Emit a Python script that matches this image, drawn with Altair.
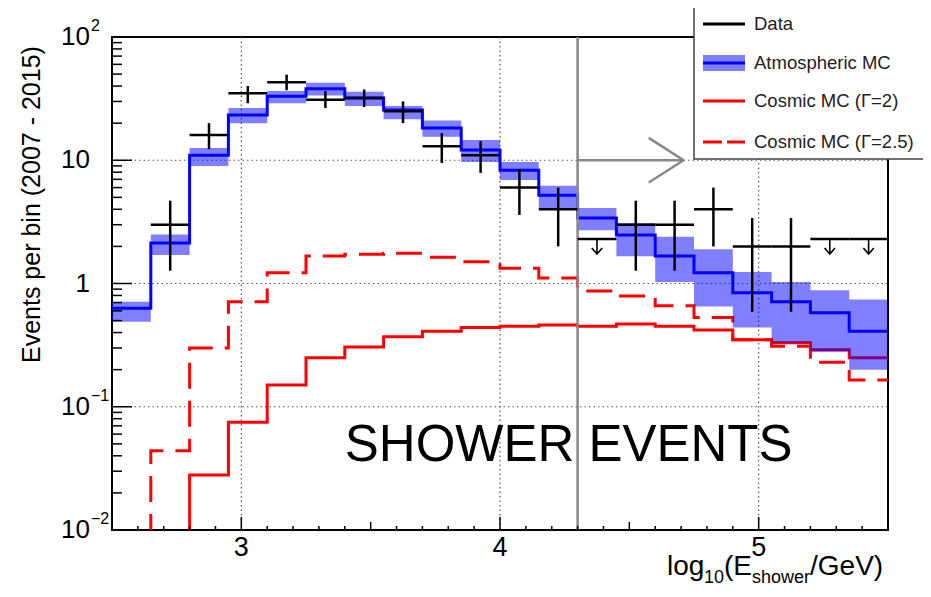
import altair as alt
import pandas as pd

# ---------------- data ----------------
edges = [2.50, 2.65, 2.80, 2.95, 3.10, 3.25, 3.40, 3.55, 3.70, 3.85, 4.00,
         4.15, 4.30, 4.45, 4.60, 4.75, 4.90, 5.05, 5.20, 5.35, 5.50]

atm_mc = [0.63, 2.13, 11.0, 23.3, 33.0, 38.0, 32.0, 25.6, 18.3, 12.1,
          8.3, 5.2, 3.4, 2.47, 1.67, 1.22, 0.84, 0.71, 0.58, 0.41]
atm_lo = [0.49, 1.70, 9.0, 20.0, 29.0, 33.5, 27.5, 21.5, 15.5, 9.7,
          6.9, 4.0, 2.7, 1.66, 1.03, 0.65, 0.44, 0.33, 0.28, 0.20]
atm_hi = [0.71, 2.50, 12.6, 26.5, 36.5, 42.5, 36.0, 27.5, 21.0, 14.6,
          9.7, 6.2, 4.1, 3.1, 2.4, 1.9, 1.24, 1.03, 0.88, 0.74]

cosmic_g2 = [0.001, 0.001, 0.028, 0.075, 0.15, 0.25, 0.305, 0.37, 0.41, 0.44,
             0.45, 0.46, 0.45, 0.47, 0.45, 0.42, 0.35, 0.33, 0.29, 0.25]
cosmic_g25 = [0.001, 0.044, 0.30, 0.71, 1.22, 1.67, 1.73, 1.76, 1.63, 1.50,
              1.33, 1.11, 0.87, 0.79, 0.66, 0.53, 0.35, 0.31, 0.23, 0.165]

data_bins = [1, 2, 3, 4, 5, 6, 7, 8, 9, 10, 11, 13, 14, 15, 16, 17]
data_counts = [3, 16, 35, 43, 31, 32, 25, 13, 11, 6, 4, 3, 3, 4, 2, 2]
data_err_lo = [1.27, 12.3, 29.0, 37.0, 26.5, 27.0, 20.0, 9.5, 7.9, 3.6, 2.0,
               1.27, 1.27, 2.0, 0.59, 0.59]
data_err_hi = [4.7, 20.0, 40.0, 49.5, 36.5, 37.5, 30.0, 16.6, 14.3, 8.5, 6.0,
               4.7, 4.7, 6.0, 3.4, 3.4]

limit_bins = [12, 18, 19]
limit_vals = [2.3, 2.3, 2.3]

threshold = 4.3
arrow_tip = [4.71, 10.0]
arrow_back = [4.575, 15.2, 6.6]

x_tick_labels = [3, 4, 5]
y_tick_vals = [0.01, 0.1, 1, 10, 100]
y_tick_main = ["10", "10", "1", "10", "10"]
y_tick_sup = ["\u22122", "\u22121", "", "", "2"]

# ---------------- layout ----------------
FONT = "Liberation Sans"
W, H = 776, 493
xs = alt.Scale(domain=[2.5, 5.5], nice=False, zero=False)
ys = alt.Scale(type="log", domain=[0.01, 100], nice=False)
one = pd.DataFrame({"k": [0]})


def step_df(vals):
    return pd.DataFrame({"x": edges, "y": list(vals) + [vals[-1]]})


X = lambda f: alt.X(f, type="quantitative", scale=xs, axis=None)
Y = lambda f: alt.Y(f, type="quantitative", scale=ys, axis=None)

band_df = pd.DataFrame({"x": edges, "lo": atm_lo + [atm_lo[-1]], "hi": atm_hi + [atm_hi[-1]]})
data_df = pd.DataFrame({
    "c": [(edges[i] + edges[i + 1]) / 2 for i in data_bins],
    "l": [edges[i] for i in data_bins],
    "r": [edges[i + 1] for i in data_bins],
    "n": data_counts, "elo": data_err_lo, "ehi": data_err_hi,
})
lim_df = pd.DataFrame({
    "c": [(edges[i] + edges[i + 1]) / 2 for i in limit_bins],
    "l": [edges[i] for i in limit_bins],
    "r": [edges[i + 1] for i in limit_bins],
    "v": limit_vals,
})

# ticks (axis structure)
xt = [round(2.5 + 0.1 * i, 1) for i in range(1, 30)]
xt_major = [t for t in xt if t in (3.0, 4.0, 5.0)]
xt_half = [t for t in xt if t in (3.5, 4.5)]
xt_minor = [t for t in xt if t not in xt_major and t not in xt_half]
yt_minor = [k * 10.0 ** d for d in (-2, -1, 0, 1) for k in range(2, 10)]
yt_major = [0.1, 1, 10]

layers = []

# grid
layers.append(alt.Chart(pd.DataFrame({"x": x_tick_labels})).mark_rule(
    color="#555", strokeWidth=1.2, strokeDash=[1.5, 3]).encode(
    x=X("x"), y=alt.value(0), y2=alt.value(H)))
layers.append(alt.Chart(pd.DataFrame({"y": yt_major})).mark_rule(
    color="#555", strokeWidth=1.2, strokeDash=[1.5, 3]).encode(
    y=Y("y"), x=alt.value(0), x2=alt.value(W)))

# cosmic lines
layers.append(alt.Chart(step_df(cosmic_g2)).mark_line(
    interpolate="step-after", color="#ff0000", strokeWidth=3, clip=True).encode(x=X("x"), y=Y("y")))
layers.append(alt.Chart(step_df(cosmic_g25)).mark_line(
    interpolate="step-after", color="#ff0000", strokeWidth=3, strokeDash=[26, 12], clip=True).encode(x=X("x"), y=Y("y")))

# atmospheric band + line
layers.append(alt.Chart(band_df).mark_area(
    interpolate="step-after", color="#0000ff", opacity=0.5, clip=True).encode(
    x=X("x"), y=Y("lo"), y2="hi"))
layers.append(alt.Chart(step_df(atm_mc)).mark_line(
    interpolate="step-after", color="#0000ff", strokeWidth=3, clip=True).encode(x=X("x"), y=Y("y")))

# threshold line and arrow
layers.append(alt.Chart(pd.DataFrame({"x": [threshold]})).mark_rule(
    color="#888", strokeWidth=2.5).encode(x=X("x"), y=alt.value(0), y2=alt.value(H)))
arrow_df = pd.DataFrame({
    "x": [threshold, arrow_back[0], arrow_back[0]],
    "y": [arrow_tip[1], arrow_back[1], arrow_back[2]],
    "x2": [arrow_tip[0], arrow_tip[0], arrow_tip[0]],
    "y2": [arrow_tip[1], arrow_tip[1], arrow_tip[1]],
})
layers.append(alt.Chart(arrow_df).mark_rule(color="#888", strokeWidth=2.5).encode(
    x=X("x"), y=Y("y"), x2="x2", y2="y2"))

# data points
layers.append(alt.Chart(data_df).mark_rule(color="black", strokeWidth=2.5).encode(
    x=X("c"), y=Y("elo"), y2="ehi"))
layers.append(alt.Chart(data_df).mark_rule(color="black", strokeWidth=2.5).encode(
    x=X("l"), x2="r", y=Y("n")))
layers.append(alt.Chart(lim_df).mark_rule(color="black", strokeWidth=2.5).encode(
    x=X("l"), x2="r", y=Y("v")))
layers.append(alt.Chart(lim_df).mark_point(
    shape="M0,0 L0,1 M-0.35,0.6 L0,1 L0.35,0.6", filled=False, stroke="black",
    strokeWidth=1.6, size=900, opacity=1).encode(x=X("c"), y=Y("v")))

# ticks
for vals, ln in ((xt_minor, 4), (xt_half, 8), (xt_major, 13)):
    layers.append(alt.Chart(pd.DataFrame({"x": vals})).mark_rule(color="black", strokeWidth=1.5).encode(
        x=X("x"), y=alt.value(H), y2=alt.value(H - ln)))
for vals, ln in ((yt_minor, 10), (yt_major, 20)):
    layers.append(alt.Chart(pd.DataFrame({"y": vals})).mark_rule(color="black", strokeWidth=1.5).encode(
        y=Y("y"), x=alt.value(0), x2=alt.value(ln)))

# tick labels
layers.append(alt.Chart(pd.DataFrame({"x": x_tick_labels, "t": [str(v) for v in x_tick_labels]})).mark_text(
    font=FONT, fontSize=27, color="black", baseline="middle", align="center").encode(
    x=X("x"), y=alt.value(H + 18), text="t:N"))
ylab_df = pd.DataFrame({"y": y_tick_vals, "m": y_tick_main, "s": y_tick_sup})
layers.append(alt.Chart(ylab_df).mark_text(
    font=FONT, fontSize=26, color="black", baseline="middle", align="right").encode(
    y=Y("y"), x=alt.value(-22), text="m:N"))
layers.append(alt.Chart(ylab_df).mark_text(
    font=FONT, fontSize=16, color="black", baseline="middle", align="left", dy=-11).encode(
    y=Y("y"), x=alt.value(-21), text="s:N"))

# axis titles
layers.append(alt.Chart(one).mark_text(
    text="Events per bin (2007 - 2015)", font=FONT, fontSize=25, angle=270,
    align="left", baseline="middle", color="black").encode(x=alt.value(-80), y=alt.value(326)))
for txt, xp, yp, fs in (("log", 555, 538, 28), ("10", 592, 546, 18), ("(E", 612, 538, 28),
                        ("shower", 640, 546, 18), ("/GeV)", 698, 538, 28)):
    layers.append(alt.Chart(one).mark_text(
        text=txt, font=FONT, fontSize=fs, align="left", baseline="alphabetic", color="black").encode(
        x=alt.value(xp), y=alt.value(yp)))

# big label
layers.append(alt.Chart(pd.DataFrame({"x": [3.40], "y": [0.036]})).mark_text(
    text="SHOWER EVENTS", font=FONT, fontSize=51, align="left", baseline="alphabetic", color="black").encode(
    x=X("x"), y=Y("y")))

# legend
layers.append(alt.Chart(one).mark_rect(fill="white", stroke="#444", strokeWidth=1.5).encode(
    x=alt.value(582), x2=alt.value(840), y=alt.value(-35), y2=alt.value(122)))
layers.append(alt.Chart(one).mark_rect(fill="#0000ff", opacity=0.5).encode(
    x=alt.value(591), x2=alt.value(633), y=alt.value(18), y2=alt.value(34)))
leg_items = [("Data", -13, "black", None), ("Atmospheric MC", 26, "#0000ff", None),
             ("Cosmic MC (\u0393=2)", 64, "#ff0000", None),
             ("Cosmic MC (\u0393=2.5)", 105, "#ff0000", [19, 5])]
for label, yy, col, dash in leg_items:
    kw = dict(color=col, strokeWidth=3)
    if dash:
        kw["strokeDash"] = dash
    layers.append(alt.Chart(one).mark_rule(**kw).encode(
        x=alt.value(591), x2=alt.value(633), y=alt.value(yy)))
    layers.append(alt.Chart(one).mark_text(
        text=label, font=FONT, fontSize=18.5, align="left", baseline="middle", color="#222").encode(
        x=alt.value(642), y=alt.value(yy)))

chart = alt.layer(*layers).properties(
    width=W, height=H,
    padding={"left": 104, "top": 29, "right": 35, "bottom": 56},
    autosize=alt.AutoSizeParams(type="none"),
).configure_view(stroke="black", strokeWidth=2)

chart.save("out.html", embed_options={"renderer": "svg", "actions": False})
